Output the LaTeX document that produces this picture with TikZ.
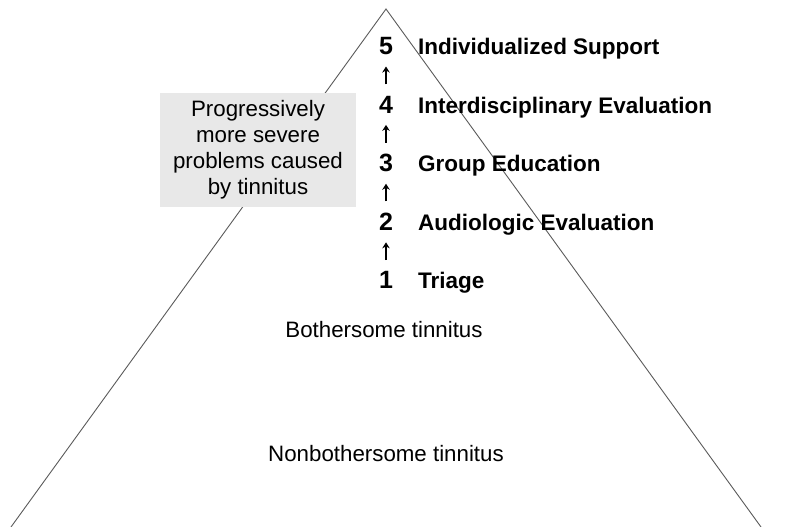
\documentclass[tikz,border=0pt]{standalone}
\usepackage{fontspec}
\setmainfont{Liberation Sans}
\usetikzlibrary{positioning,arrows.meta}
\definecolor{boxgray}{RGB}{232,232,232}
\definecolor{edgegray}{RGB}{90,90,90}
\begin{document}
\begin{tikzpicture}
[x=1bp, y=-1bp,
level num/.style={font=\fontsize{25bp}{30bp}\selectfont\bfseries, inner sep=0pt},
level name/.style={font=\fontsize{22.5bp}{27bp}\selectfont\bfseries, inner sep=0pt},
plain text/.style={font=\fontsize{22.3bp}{26bp}\selectfont, inner sep=0pt},
severity box/.style={plain text, fill=boxgray, minimum width=196bp, minimum height=114bp, align=center},
up arrow/.style={-{Stealth[length=6bp, width=7.5bp]}, line width=1.8bp, shorten <=11.5bp, shorten >=11.5bp}]
\useasboundingbox (0,0) rectangle (804,527);

% sides of the pyramid
\draw[edgegray, line width=0.9bp] (11,527) -- (386,9) -- (761,527);

\node[level num, anchor=base] (n1) at (386,289) {1};
\node[level num, above=40.75bp of n1] (n2) {2};
\node[level num, above=40.75bp of n2] (n3) {3};
\node[level num, above=40.75bp of n3] (n4) {4};
\node[level num, above=40.75bp of n4] (n5) {5};

\node[level name, right=32bp of n1.base, anchor=base west] (triage) {Triage};
\node[level name, right=32bp of n2.base, anchor=base west] (audio) {Audiologic Evaluation};
\node[level name, right=32bp of n3.base, anchor=base west] (group) {Group Education};
\node[level name, right=32bp of n4.base, anchor=base west] (inter) {Interdisciplinary Evaluation};
\node[level name, right=32bp of n5.base, anchor=base west] (indiv) {Individualized Support};

\draw[up arrow] (n1) -- (n2);
\draw[up arrow] (n2) -- (n3);
\draw[up arrow] (n3) -- (n4);
\draw[up arrow] (n4) -- (n5);

\node[severity box] (severity) at (258,150) {Progressively\\more severe\\problems caused\\by tinnitus};

\node[plain text] (bother) at (384,329.5) {Bothersome tinnitus};
\node[plain text] (nonbother) at (386,454) {Nonbothersome tinnitus};
\end{tikzpicture}
\end{document}
